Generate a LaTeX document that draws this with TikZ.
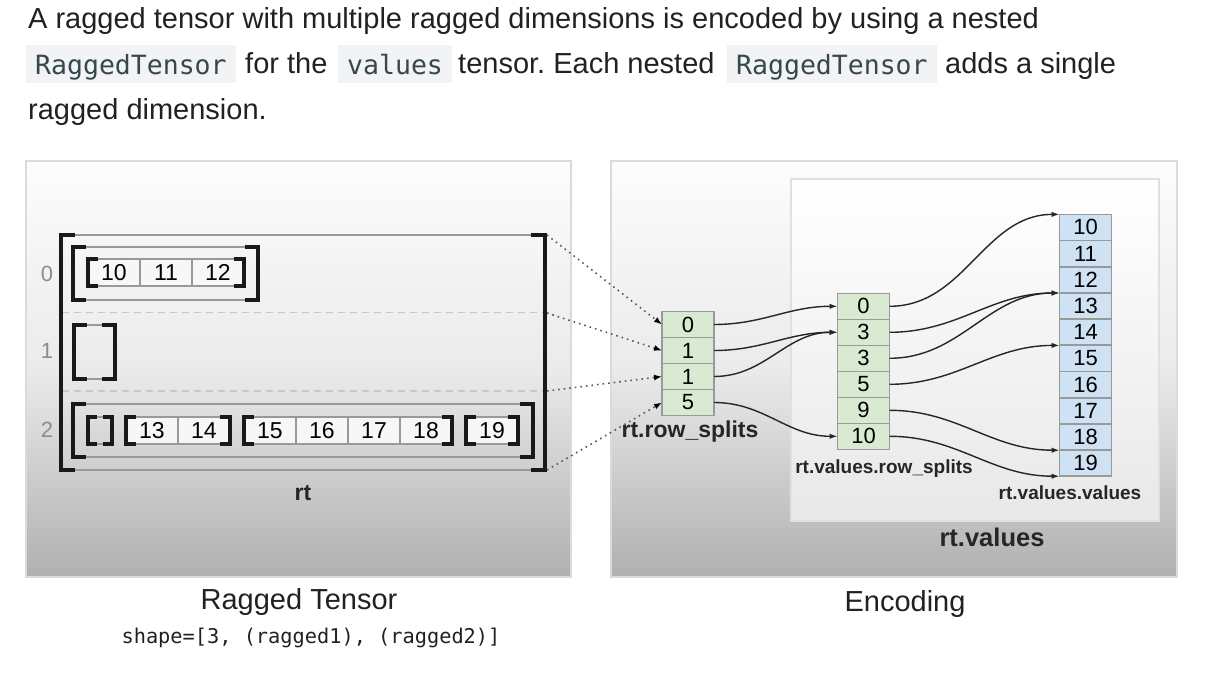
\documentclass[tikz,border=0pt]{standalone}
\usepackage{fontspec}
\setmainfont{Liberation Sans}
\newfontfamily\codefont{DejaVu Sans Mono}
\usepackage{tikz}
\usetikzlibrary{arrows.meta}
\frenchspacing
\definecolor{txtgray}{HTML}{202124}
\definecolor{codebg}{HTML}{F1F3F4}
\definecolor{codefg}{HTML}{37474F}
\definecolor{cellgreen}{HTML}{D9EAD3}
\definecolor{cellblue}{HTML}{CFE2F3}
\definecolor{edgegray}{HTML}{999999}
\tikzset{
  body/.style={anchor=base west, inner sep=0pt, text=txtgray,
    font=\fontsize{29}{34}\selectfont},
  code/.style={anchor=base west, inner xsep=9pt, inner ysep=0pt,
    text height=30pt, text depth=8pt, fill=codebg, text=codefg,
    font=\codefont\fontsize{26.5}{30}\selectfont},
  panel/.style={draw=black!14, line width=1.5pt, top color=black!1,
    bottom color=black!31, middle color=black!8},
  innerpanel/.style={draw=black!12, line width=2pt, top color=white,
    bottom color=black!9},
  rowsep/.style={black!22, line width=1.5pt, dash pattern=on 7pt off 5pt},
  boxline/.style={edgegray, line width=1.8pt},
  brkline/.style={black!90, line width=4pt, line join=miter},
  lcell/.style={draw=edgegray, line width=1.5pt, fill=black!3,
    minimum width=52pt, minimum height=27pt, inner sep=0pt, outer sep=0pt,
    font=\fontsize{23}{23}\selectfont},
  rscell/.style={draw=edgegray, line width=1.5pt, fill=cellgreen,
    minimum width=52pt, minimum height=26pt, inner sep=0pt, outer sep=0pt,
    font=\fontsize{22}{22}\selectfont},
  vvcell/.style={rscell, fill=cellblue},
  rowlbl/.style={text=black!45, inner sep=0pt, font=\fontsize{22}{22}\selectfont},
  lbl/.style={text=black!85, inner sep=0pt, font=\bfseries\fontsize{19}{19}\selectfont},
  caption/.style={text=black!87, inner sep=0pt, font=\fontsize{29}{29}\selectfont},
  dotarrow/.style={black!65, line width=1.6pt, dash pattern=on 1.6pt off 4pt,
    -{Latex[length=8pt,width=6pt,color=black]}},
  splitarrow/.style={black!85, line width=1.4pt, -{Latex[length=8pt,width=5.5pt]}}
}
\newcommand{\brackbox}[5]{%
  \draw[boxline] (#1,#2) -- (#3,#2) (#1,#4) -- (#3,#4);
  \draw[brkline] ({#1+#5},#2) -- (#1,#2) -- (#1,#4) -- ({#1+#5},#4);
  \draw[brkline] ({#3-#5},#2) -- (#3,#2) -- (#3,#4) -- ({#3-#5},#4);
}

\begin{document}
\begin{tikzpicture}[x=1pt,y=-1pt]
        \useasboundingbox (0,0) rectangle (1208,682);
        % Text above the picture
        \node[body] (line1) at (28,29)
        {A ragged tensor with multiple ragged dimensions is encoded by using a nested};
        \node[code] (code1) at (26,75) {RaggedTensor};
        \node[body] (line2a) at (245,74) {for the};
        \node[code] (code2) at (338,75) {values};
        \node[body] (line2b) at (458,74) {tensor. Each nested};
        \node[code] (code3) at (727,75) {RaggedTensor};
        \node[body] (line2c) at (945,74) {adds a single};
        \node[body] (line3) at (28,120) {ragged dimension.};
        % Draw the two panels
        \draw[panel] (26,161) rectangle (571,577);
        \draw[panel] (611,161) rectangle (1177,577);
        \draw[innerpanel] (791,179) rectangle (1159,521);
        % Row separators
        \draw[rowsep] (62,312.5) -- (545,312.5);
        \draw[rowsep] (62,391) -- (545,391);
        % Row numbers
        \node[rowlbl] (row0) at (47,274) {0};
        \node[rowlbl] (row1) at (47,351) {1};
        \node[rowlbl] (row2) at (47,430) {2};
        % Values of the ragged tensor
        \foreach \v [count=\i from 0] in {10,11,12}
            \node[lcell] (v\v) at ({114+52*\i},272.5) {\v};
        \foreach \v [count=\i from 0] in {13,14}
            \node[lcell] (v\v) at ({152+52*\i},430.5) {\v};
        \foreach \v [count=\i from 0] in {15,16,17,18}
            \node[lcell] (v\v) at ({270+52*\i},430.5) {\v};
        \node[lcell] (v19) at (492,430.5) {19};
        % Inner brackets
        \brackbox{88}{259}{244}{286}{10}
        \brackbox{88}{417}{112}{444}{9}
        \brackbox{126}{417}{230}{444}{10}
        \brackbox{244}{417}{452}{444}{10}
        \brackbox{466}{417}{518}{444}{10}
        % Row brackets
        \brackbox{73}{247}{258}{300}{13}
        \brackbox{74}{325}{115}{379}{13}
        \brackbox{73}{404}{533}{457}{13}
        % Outer bracket
        \brackbox{61}{235}{545}{470}{14}
        \node[lbl, font=\bfseries\fontsize{23}{23}\selectfont] (rtlbl) at (303,493) {rt};
        % Split arrays
        \foreach \v [count=\i from 0] in {0,1,1,5}
            \node[rscell] (rs\i) at (688,{324.5+26*\i}) {\v};
        \foreach \v [count=\i from 0] in {0,3,3,5,9,10}
            \node[rscell] (vrs\i) at (863.5,{306.3+26*\i}) {\v};
        \foreach \v [count=\i from 0] in {10,...,19}
            \node[vvcell] (vv\i) at (1085.5,{227.4+26.2*\i}) {\v};
        % Labels of the arrays
        \node[lbl, font=\bfseries\fontsize{23}{23}\selectfont] (rslbl) at (690,432) {rt.row\_splits};
        \node[lbl] (vrslbl) at (884,469) {rt.values.row\_splits};
        \node[lbl] (vvlbl) at (1070,493) {rt.values.values};
        \node[lbl, font=\bfseries\fontsize{25.5}{25.5}\selectfont] (rtvlbl) at (992,537) {rt.values};
        % Dotted arrows from the rows
        \coordinate (ob0) at (547,235);
        \coordinate (ob1) at (547,313);
        \coordinate (ob2) at (547,391);
        \coordinate (ob3) at (547,470);
        \foreach \i in {0,...,3}
            \draw[dotarrow] (ob\i) -- (rs\i.west);
        % Arrows between the splits
        \foreach \s/\t in {0/0,1/1,2/1,3/5}
            \draw[splitarrow] (rs\s.east) to[out=0,in=180] (vrs\t.west);
        \foreach \s/\t in {0/vv0.north west,1/vv3.north west,2/vv3.north west,
                           3/vv5.north west,4/vv9.north west,5/vv9.south west}
            \draw[splitarrow] (vrs\s.east) to[out=0,in=180] (\t);
        % Captions
        \node[caption] (cap1) at (299,602) {Ragged Tensor};
        \node[text=black!87, inner sep=0pt, font=\codefont\fontsize{20.3}{20.3}\selectfont]
        (cap2) at (311,638) {shape=[3, (ragged1), (ragged2)]};
        \node[caption] (cap3) at (905,604) {Encoding};
\end{tikzpicture}
\end{document}
